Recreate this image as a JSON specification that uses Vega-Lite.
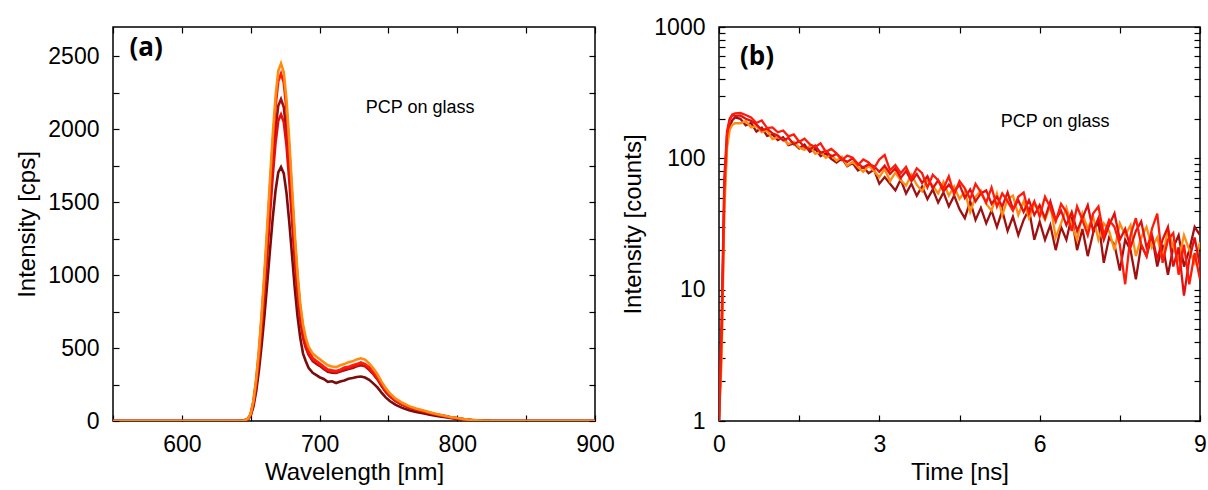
{
"$schema": "https://vega.github.io/schema/vega-lite/v6.json",
"padding": {"left": 15, "top": 15, "right": 0, "bottom": 0},
"background": "white",
"config": {
  "view": {"stroke": "black", "strokeWidth": 1.5},
  "font": "Liberation Sans",
  "axis": {"labelFontSize": 23, "titleFontSize": 24, "titleFontWeight": "normal", "labelColor": "black", "titleColor": "black", "tickColor": "black", "tickWidth": 1.2, "tickSize": -6, "labelPadding": 20, "domain": false, "grid": false, "labelFont": "Liberation Sans", "titleFont": "Liberation Sans", "format": "d", "labelFlush": false, "labelOverlap": false},
  "axisX": {"labelPadding": 18}
},
"datasets": {
  "spec": [
    {"w":550,"a":0,"b":0,"c":0,"d":0,"e":0},
    {"w":600,"a":0,"b":0,"c":0,"d":0,"e":0},
    {"w":640,"a":0,"b":0,"c":0,"d":0,"e":0},
    {"w":645,"a":3,"b":3,"c":3,"d":3,"e":2},
    {"w":648,"a":15,"b":15,"c":14,"d":13,"e":11},
    {"w":650,"a":50,"b":49,"c":45,"d":43,"e":36},
    {"w":652,"a":140,"b":136,"c":126,"d":120,"e":99},
    {"w":654,"a":290,"b":281,"c":261,"d":249,"e":206},
    {"w":656,"a":490,"b":475,"c":441,"d":420,"e":348},
    {"w":658,"a":740,"b":718,"c":666,"d":634,"e":525},
    {"w":660,"a":1020,"b":989,"c":918,"d":874,"e":724},
    {"w":662,"a":1330,"b":1290,"c":1197,"d":1140,"e":944},
    {"w":664,"a":1650,"b":1600,"c":1485,"d":1414,"e":1172},
    {"w":666,"a":1960,"b":1901,"c":1764,"d":1680,"e":1392},
    {"w":668,"a":2220,"b":2153,"c":1998,"d":1903,"e":1576},
    {"w":670,"a":2400,"b":2328,"c":2160,"d":2057,"e":1704},
    {"w":672,"a":2450,"b":2380,"c":2205,"d":2100,"e":1740},
    {"w":674,"a":2390,"b":2318,"c":2151,"d":2048,"e":1697},
    {"w":676,"a":2200,"b":2134,"c":1980,"d":1885,"e":1562},
    {"w":678,"a":1920,"b":1862,"c":1728,"d":1645,"e":1363},
    {"w":680,"a":1600,"b":1552,"c":1440,"d":1371,"e":1136},
    {"w":682,"a":1280,"b":1242,"c":1152,"d":1097,"e":909},
    {"w":684,"a":1010,"b":980,"c":909,"d":866,"e":717},
    {"w":686,"a":800,"b":776,"c":720,"d":686,"e":568},
    {"w":688,"a":660,"b":640,"c":594,"d":566,"e":462},
    {"w":690,"a":570,"b":550,"c":510,"d":500,"e":410},
    {"w":692,"a":510,"b":480,"c":455,"d":460,"e":365},
    {"w":695,"a":462,"b":432,"c":410,"d":420,"e":330},
    {"w":698,"a":438,"b":410,"c":390,"d":402,"e":312},
    {"w":700,"a":425,"b":395,"c":378,"d":385,"e":300},
    {"w":703,"a":402,"b":374,"c":356,"d":366,"e":288},
    {"w":706,"a":382,"b":352,"c":338,"d":346,"e":268},
    {"w":709,"a":374,"b":347,"c":331,"d":340,"e":272},
    {"w":712,"a":369,"b":343,"c":329,"d":335,"e":260},
    {"w":715,"a":382,"b":352,"c":339,"d":346,"e":271},
    {"w":718,"a":390,"b":366,"c":348,"d":358,"e":278},
    {"w":721,"a":402,"b":371,"c":357,"d":363,"e":290},
    {"w":724,"a":409,"b":382,"c":364,"d":374,"e":294},
    {"w":727,"a":422,"b":390,"c":375,"d":381,"e":302},
    {"w":730,"a":430,"b":401,"c":382,"d":392,"e":305},
    {"w":733,"a":421,"b":390,"c":375,"d":381,"e":298},
    {"w":736,"a":395,"b":368,"c":351,"d":361,"e":282},
    {"w":739,"a":362,"b":334,"c":321,"d":327,"e":258},
    {"w":742,"a":320,"b":298,"c":285,"d":291,"e":230},
    {"w":745,"a":270,"b":251,"c":240,"d":246,"e":195},
    {"w":748,"a":225,"b":209,"c":200,"d":205,"e":162},
    {"w":751,"a":190,"b":177,"c":169,"d":173,"e":137},
    {"w":755,"a":155,"b":144,"c":138,"d":141,"e":112},
    {"w":760,"a":125,"b":116,"c":111,"d":114,"e":90},
    {"w":765,"a":102,"b":95,"c":91,"d":93,"e":74},
    {"w":770,"a":86,"b":80,"c":77,"d":78,"e":62},
    {"w":775,"a":73,"b":68,"c":65,"d":66,"e":53},
    {"w":780,"a":60,"b":56,"c":53,"d":55,"e":43},
    {"w":785,"a":48,"b":45,"c":43,"d":44,"e":35},
    {"w":790,"a":38,"b":35,"c":34,"d":35,"e":27},
    {"w":795,"a":28,"b":26,"c":25,"d":25,"e":20},
    {"w":800,"a":20,"b":19,"c":18,"d":18,"e":14},
    {"w":805,"a":13,"b":12,"c":12,"d":12,"e":9},
    {"w":810,"a":8,"b":7,"c":7,"d":7,"e":6},
    {"w":815,"a":4,"b":4,"c":4,"d":4,"e":3},
    {"w":820,"a":2,"b":2,"c":2,"d":2,"e":1},
    {"w":825,"a":0,"b":0,"c":0,"d":0,"e":0},
    {"w":860,"a":0,"b":0,"c":0,"d":0,"e":0},
    {"w":900,"a":0,"b":0,"c":0,"d":0,"e":0}
  ],
  "decay": [
    {"t":0,"a":1,"b":1,"c":1,"d":1},
    {"t":0.05,"a":3,"b":5,"c":4,"d":6},
    {"t":0.1,"a":40,"b":60,"c":50,"d":70},
    {"t":0.15,"a":120,"b":150,"c":130,"d":160},
    {"t":0.2,"a":165,"b":195,"c":175,"d":200},
    {"t":0.25,"a":180,"b":215,"c":195,"d":215},
    {"t":0.3,"a":185,"b":220,"c":205,"d":210},
    {"t":0.4,"a":185,"b":222,"c":200,"d":212},
    {"t":0.5,"a":192,"b":214,"c":178,"d":200},
    {"t":0.6,"a":172,"b":205,"c":186,"d":193},
    {"t":0.7,"a":176,"b":186,"c":160,"d":181},
    {"t":0.8,"a":158,"b":194,"c":171,"d":164},
    {"t":0.9,"a":163,"b":170,"c":148,"d":168},
    {"t":1.0,"a":140,"b":172,"c":152,"d":155},
    {"t":1.1,"a":145,"b":158,"c":138,"d":149},
    {"t":1.2,"a":139,"b":163,"c":145,"d":137},
    {"t":1.3,"a":128,"b":147,"c":126,"d":143},
    {"t":1.4,"a":134,"b":152,"c":130,"d":128},
    {"t":1.5,"a":121,"b":134,"c":119,"d":135},
    {"t":1.6,"a":116,"b":141,"c":127,"d":122},
    {"t":1.7,"a":124,"b":128,"c":112,"d":117},
    {"t":1.8,"a":108,"b":122,"c":118,"d":125},
    {"t":1.9,"a":112,"b":130,"c":104,"d":110},
    {"t":2.0,"a":101,"b":112,"c":109,"d":114},
    {"t":2.1,"a":106,"b":118,"c":99,"d":103},
    {"t":2.2,"a":96,"b":109,"c":93,"d":108},
    {"t":2.3,"a":103,"b":97,"c":100,"d":99},
    {"t":2.4,"a":88,"b":105,"c":87,"d":94},
    {"t":2.5,"a":94,"b":101,"c":92,"d":100},
    {"t":2.6,"a":86,"b":89,"c":81,"d":91},
    {"t":2.7,"a":79,"b":98,"c":86,"d":85},
    {"t":2.8,"a":88,"b":93,"c":77,"d":90},
    {"t":2.9,"a":80,"b":84,"c":82,"d":87},
    {"t":3.0,"a":72,"b":98,"c":64,"d":79},
    {"t":3.1,"a":83,"b":106,"c":72,"d":88},
    {"t":3.2,"a":67,"b":81,"c":64,"d":76},
    {"t":3.3,"a":78,"b":89,"c":57,"d":84},
    {"t":3.4,"a":68,"b":77,"c":69,"d":71},
    {"t":3.5,"a":62,"b":86,"c":54,"d":80},
    {"t":3.6,"a":75,"b":70,"c":64,"d":67},
    {"t":3.7,"a":63,"b":84,"c":52,"d":76},
    {"t":3.8,"a":56,"b":77,"c":61,"d":65},
    {"t":3.9,"a":69,"b":60,"c":49,"d":73},
    {"t":4.0,"a":62,"b":75,"c":58,"d":59},
    {"t":4.1,"a":54,"b":68,"c":46,"d":68},
    {"t":4.2,"a":66,"b":59,"c":55,"d":56},
    {"t":4.3,"a":52,"b":73,"c":43,"d":63},
    {"t":4.4,"a":61,"b":53,"c":52,"d":56},
    {"t":4.5,"a":49,"b":67,"c":41,"d":63},
    {"t":4.6,"a":56,"b":59,"c":35,"d":50},
    {"t":4.7,"a":39,"b":49,"c":47,"d":58},
    {"t":4.8,"a":51,"b":64,"c":34,"d":47},
    {"t":4.9,"a":57,"b":55,"c":42,"d":54},
    {"t":5.0,"a":45,"b":46,"c":32,"d":57},
    {"t":5.1,"a":40,"b":60,"c":40,"d":45},
    {"t":5.2,"a":54,"b":43,"c":30,"d":51},
    {"t":5.3,"a":37,"b":54,"c":40,"d":43},
    {"t":5.4,"a":49,"b":47,"c":28,"d":55},
    {"t":5.5,"a":52,"b":40,"c":36,"d":41},
    {"t":5.6,"a":37,"b":51,"c":26,"d":48},
    {"t":5.7,"a":47,"b":55,"c":34,"d":39},
    {"t":5.8,"a":35,"b":38,"c":41,"d":48},
    {"t":5.9,"a":45,"b":47,"c":24,"d":37},
    {"t":6.0,"a":41,"b":36,"c":33,"d":44},
    {"t":6.1,"a":34,"b":51,"c":24,"d":35},
    {"t":6.2,"a":44,"b":42,"c":31,"d":47},
    {"t":6.3,"a":25,"b":33,"c":20,"d":34},
    {"t":6.4,"a":32,"b":45,"c":30,"d":40},
    {"t":6.5,"a":42,"b":39,"c":24,"d":31},
    {"t":6.6,"a":31,"b":28,"c":36,"d":39},
    {"t":6.7,"a":24,"b":43,"c":20,"d":28},
    {"t":6.8,"a":38,"b":34,"c":29,"d":35},
    {"t":6.9,"a":29,"b":26,"c":18,"d":44},
    {"t":7.0,"a":36,"b":38,"c":27,"d":28},
    {"t":7.1,"a":24,"b":43,"c":33,"d":35},
    {"t":7.2,"a":32,"b":26,"c":16,"d":24},
    {"t":7.3,"a":28,"b":34,"c":25,"d":31},
    {"t":7.4,"a":20,"b":30,"c":22,"d":38},
    {"t":7.5,"a":32,"b":22,"c":14,"d":24},
    {"t":7.6,"a":26,"b":11,"c":24,"d":29},
    {"t":7.7,"a":31,"b":26,"c":20,"d":21},
    {"t":7.8,"a":18,"b":35,"c":12,"d":28},
    {"t":7.9,"a":25,"b":22,"c":22,"d":33},
    {"t":8.0,"a":30,"b":18,"c":18,"d":21},
    {"t":8.1,"a":21,"b":29,"c":26,"d":26},
    {"t":8.2,"a":25,"b":38,"c":15,"d":17},
    {"t":8.3,"a":17,"b":16,"c":22,"d":24},
    {"t":8.4,"a":29,"b":24,"c":13,"d":30},
    {"t":8.5,"a":21,"b":27,"c":21,"d":15},
    {"t":8.6,"a":17,"b":13,"c":26,"d":21},
    {"t":8.7,"a":26,"b":22,"c":15,"d":9},
    {"t":8.8,"a":20,"b":11,"c":20,"d":17},
    {"t":8.9,"a":16,"b":19,"c":30,"d":25},
    {"t":9.0,"a":23,"b":12,"c":26,"d":15}
  ],
  "tagA": [{"x":574,"y":2555,"label":"(a)"}],
  "noteA": [{"x":773,"y":2145,"label":"PCP on glass"}],
  "tagB": [{"x":0.71,"y":590,"label":"(b)"}],
  "noteB": [{"x":6.29,"y":189,"label":"PCP on glass"}]
},
"spacing": 6,
"hconcat": [
  {
    "width": 482, "height": 394,
    "resolve": {"axis": {"x": "independent", "y": "independent"}},
    "layer": [
      {
        "data": {"name": "spec"},
        "transform": [{"fold": ["e","c","d","b","a"], "as": ["series","value"]}],
        "mark": {"type": "line", "strokeWidth": 2.6, "clip": true},
        "encoding": {
          "x": {"field": "w", "type": "quantitative", "scale": {"domain": [550,900], "nice": false, "zero": false},
                "axis": {"orient": "bottom", "title": "Wavelength [nm]", "values": [550,600,650,700,750,800,850,900], "labelExpr": "datum.value % 100 === 0 && datum.value > 550 ? datum.label : ''", "titlePadding": 4}},
          "y": {"field": "value", "type": "quantitative", "scale": {"domain": [0,2700], "nice": false},
                "axis": {"orient": "left", "title": "Intensity [cps]", "values": [0,250,500,750,1000,1250,1500,1750,2000,2250,2500], "labelExpr": "datum.value % 500 === 0 ? datum.label : ''", "titlePadding": 8}},
          "color": {"field": "series", "type": "nominal", "scale": {"domain": ["a","b","c","d","e"], "range": ["#ff8c10","#ff1a0a","#a01010","#e31010","#7a0c0c"]}, "legend": null}
        }
      },
      {
        "data": {"name": "tagA"},
        "mark": {"type": "text", "font": "Open Sans", "fontWeight": "bold", "fontSize": 26, "color": "black"},
        "encoding": {
          "x": {"field": "x", "type": "quantitative", "scale": {"domain": [550,900], "nice": false, "zero": false},
                "axis": {"orient": "top", "title": null, "labels": false, "values": [550,600,650,700,750,800,850,900]}},
          "y": {"field": "y", "type": "quantitative", "scale": {"domain": [0,2700], "nice": false},
                "axis": {"orient": "right", "title": null, "labels": false, "values": [0,250,500,750,1000,1250,1500,1750,2000,2250,2500]}},
          "text": {"field": "label"}
        }
      },
      {
        "data": {"name": "noteA"},
        "mark": {"type": "text", "fontSize": 18, "color": "black"},
        "encoding": {
          "x": {"field": "x", "type": "quantitative", "scale": {"domain": [550,900], "nice": false, "zero": false}, "axis": null},
          "y": {"field": "y", "type": "quantitative", "scale": {"domain": [0,2700], "nice": false}, "axis": null},
          "text": {"field": "label"}
        }
      }
    ]
  },
  {
    "width": 481, "height": 394,
    "resolve": {"axis": {"x": "independent", "y": "independent"}},
    "layer": [
      {
        "data": {"name": "decay"},
        "transform": [{"fold": ["c","a","d","b"], "as": ["series","value"]}],
        "mark": {"type": "line", "strokeWidth": 2.3, "clip": true},
        "encoding": {
          "x": {"field": "t", "type": "quantitative", "scale": {"domain": [0,9], "nice": false},
                "axis": {"orient": "bottom", "title": "Time [ns]", "values": [0,1.5,3,4.5,6,7.5,9], "labelExpr": "datum.value % 3 === 0 ? datum.label : ''", "titlePadding": 4}},
          "y": {"field": "value", "type": "quantitative", "scale": {"type": "log", "domain": [1,1000], "nice": false},
                "axis": {"orient": "left", "title": "Intensity [counts]", "values": [1,2,3,4,5,6,7,8,9,10,20,30,40,50,60,70,80,90,100,200,300,400,500,600,700,800,900,1000], "labelExpr": "indexof([1,10,100,1000], datum.value) >= 0 ? datum.label : ''", "titlePadding": 8}},
          "color": {"field": "series", "type": "nominal", "scale": {"domain": ["a","b","c","d"], "range": ["#ff8c10","#ff1a0a","#a01010","#e31010"]}, "legend": null}
        }
      },
      {
        "data": {"name": "tagB"},
        "mark": {"type": "text", "font": "Open Sans", "fontWeight": "bold", "fontSize": 26, "color": "black"},
        "encoding": {
          "x": {"field": "x", "type": "quantitative", "scale": {"domain": [0,9], "nice": false},
                "axis": {"orient": "top", "title": null, "labels": false, "values": [0,1.5,3,4.5,6,7.5,9]}},
          "y": {"field": "y", "type": "quantitative", "scale": {"type": "log", "domain": [1,1000], "nice": false},
                "axis": {"orient": "right", "title": null, "labels": false, "values": [1,2,3,4,5,6,7,8,9,10,20,30,40,50,60,70,80,90,100,200,300,400,500,600,700,800,900,1000]}},
          "text": {"field": "label"}
        }
      },
      {
        "data": {"name": "noteB"},
        "mark": {"type": "text", "fontSize": 18, "color": "black"},
        "encoding": {
          "x": {"field": "x", "type": "quantitative", "scale": {"domain": [0,9], "nice": false}, "axis": null},
          "y": {"field": "y", "type": "quantitative", "scale": {"type": "log", "domain": [1,1000], "nice": false}, "axis": null},
          "text": {"field": "label"}
        }
      }
    ]
  }
]
}
